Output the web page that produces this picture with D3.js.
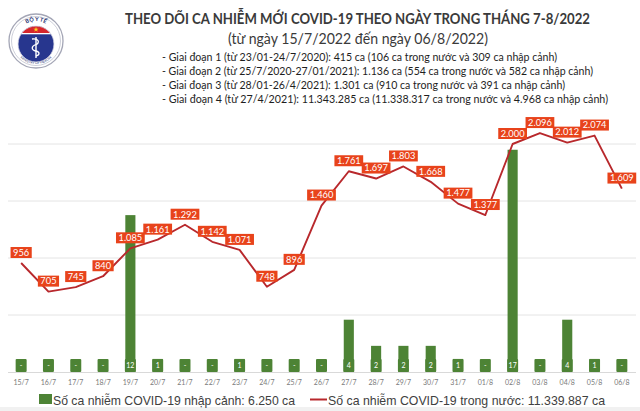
<!DOCTYPE html>
<html>
<head>
<meta charset="utf-8">
<script src="https://cdn.jsdelivr.net/npm/d3@7"></script>
<style>
  body { margin: 0; background: #fff; }
  svg { display: block; font-family: "Lato", "Liberation Sans", Arial, sans-serif; }
</style>
</head>
<body>
<div id="chart"></div>
<script>
// chart data
var dates = ["15/7", "16/7", "17/7", "18/7", "19/7", "20/7", "21/7", "22/7", "23/7", "24/7", "25/7", "26/7",
    "27/7", "28/7", "29/7", "30/7", "31/7", "01/8", "02/8", "03/8", "04/8", "05/8", "06/8"];
var domestic = [956, 705, 745, 840, 1085, 1161, 1292, 1142, 1071, 748, 896, 1460,
    1761, 1697, 1803, 1668, 1477, 1377, 2000, 2096, 2012, 2074, 1609];
var imported = [0, 0, 0, 0, 12, 1, 0, 0, 1, 0, 0, 0,
    4, 2, 2, 2, 1, 0, 17, 0, 4, 1, 0];
var gridTicks = [500, 1000, 1500, 2000];

var titleText = "THEO DÕI CA NHIỄM MỚI COVID-19 THEO NGÀY TRONG THÁNG 7-8/2022";
var subtitleText = "(từ ngày 15/7/2022 đến ngày 06/8/2022)";
var stageNotes = [
    "- Giai đoạn 1 (từ 23/01-24/7/2020): 415 ca (106 ca trong nước và 309 ca nhập cảnh)",
    "- Giai đoạn 2 (từ 25/7/2020-27/01/2021): 1.136 ca (554 ca trong nước và 582 ca nhập cảnh)",
    "- Giai đoạn 3 (từ 28/01-26/4/2021): 1.301 ca (910 ca trong nước và 391 ca nhập cảnh)",
    "- Giai đoạn 4 (từ 27/4/2021): 11.343.285 ca (11.338.317 ca trong nước và 4.968 ca nhập cảnh)"
];
var legendLabels = ["Số ca nhiễm COVID-19 nhập cảnh: 6.250 ca", "Số ca nhiễm COVID-19 trong nước: 11.339.887 ca"];

var width = 640, height = 411;
var baseline = 372, plotTop = 87;
var lineColor = "#b8282c", boxColor = "#e8431b", barColor = "#4d8335";

// vietnamese number format: 1.085
var vn = d3.formatLocale({ decimal: ",", thousands: ".", grouping: [3], currency: ["", ""] });
var fmt = vn.format(",d");

var svg = d3.select("#chart").append("svg")
    .attr("width", width).attr("height", height);

svg.append("rect").attr("width", width).attr("height", height).attr("fill", "#fff");
svg.append("rect").attr("y", 407).attr("width", width).attr("height", 4).attr("fill", "#f1f1f1");

// ---- logo (Bo Y Te)
var logo = svg.append("g").attr("transform", "translate(36,41)");
var defs = svg.append("defs");
defs.append("clipPath").attr("id", "innerClip")
    .append("circle").attr("cx", 36).attr("cy", 44).attr("r", 18);
defs.append("path").attr("id", "topArc").attr("d", "M-20,0 A20,20 0 0,1 20,0");
defs.append("path").attr("id", "botArc").attr("d", "M-23,0 A23,23 0 0,0 23,0");

logo.append("circle").attr("r", 27).attr("fill", "#fff")
    .attr("stroke", "#a4a6b6").attr("stroke-width", 1.3);
logo.append("circle").attr("r", 24.5).attr("fill", "none")
    .attr("stroke", "#b8bac8").attr("stroke-width", 0.7);
logo.append("text").attr("font-size", 5.5).attr("font-weight", "bold").attr("fill", "#23306f")
    .append("textPath").attr("href", "#topArc").attr("startOffset", "50%")
    .attr("text-anchor", "middle").text("BỘ Y TẾ");
logo.append("text").attr("font-size", 3.4).attr("fill", "#23306f")
    .append("textPath").attr("href", "#botArc").attr("startOffset", "50%")
    .attr("text-anchor", "middle").text("MINISTRY OF HEALTH");

var inner = svg.append("g").attr("clip-path", "url(#innerClip)");
inner.append("rect").attr("x", 16).attr("y", 24).attr("width", 40).attr("height", 40).attr("fill", "#27368e");
inner.append("rect").attr("x", 16).attr("y", 24).attr("width", 40).attr("height", 9).attr("fill", "#d6262c");
inner.append("rect").attr("x", 16).attr("y", 33).attr("width", 40).attr("height", 1.3).attr("fill", "#fff");
svg.append("circle").attr("cx", 36).attr("cy", 44).attr("r", 18)
    .attr("fill", "none").attr("stroke", "#dfe0ea").attr("stroke-width", 0.8);
svg.append("path").attr("d", d3.symbol(d3.symbolStar).size(9)())
    .attr("transform", "translate(36,29.5)").attr("fill", "#ffd21f");
svg.append("line").attr("x1", 36).attr("x2", 36).attr("y1", 37).attr("y2", 58)
    .attr("stroke", "#fff").attr("stroke-width", 1.4);
svg.append("path")
    .attr("d", "M32,39 C39,38 40,43 36,44.5 C31,46 31,50 36,51 C40,52 40,55 36,56")
    .attr("fill", "none").attr("stroke", "#fff").attr("stroke-width", 1.3);

// ---- titles
function fitText(sel, w) {
    sel.attr("textLength", w).attr("lengthAdjust", "spacingAndGlyphs");
}
svg.append("text").attr("x", 125).attr("y", 24)
    .attr("font-size", 14.5).attr("font-weight", "bold").attr("fill", "#3a3a3a")
    .text(titleText).call(fitText, 465);
svg.append("text").attr("x", 228).attr("y", 44)
    .attr("font-size", 14.5).attr("fill", "#3a3a3a")
    .text(subtitleText).call(fitText, 260);

var noteEnds = [557, 593, 565, 608];
svg.append("g").selectAll("text").data(stageNotes).enter().append("text")
    .attr("x", 162)
    .attr("y", (d, i) => 60.5 + i * 14.2)
    .attr("font-size", 11).attr("fill", "#1e1e1e")
    .text(d => d)
    .each(function (d, i) { d3.select(this).call(fitText, noteEnds[i] - 162); });

// ---- scales
var x = d3.scaleBand().domain(dates)
    .range([7.5, 635.5]).paddingInner(0.63).paddingOuter(0.315);
var yLine = d3.scaleLinear().domain([0, 2500]).range([baseline, plotTop]);
var yBar = d3.scaleLinear().domain([0, 21.8]).range([baseline, plotTop]);
var cx = d => x(d) + x.bandwidth() / 2;

// gridlines
svg.append("g").selectAll("line").data(gridTicks).enter().append("line")
    .attr("x1", 8).attr("x2", 636)
    .attr("y1", d => yLine(d)).attr("y2", d => yLine(d))
    .attr("stroke", "#e4e4e4").attr("stroke-width", 1);

// x axis
var xAxis = d3.axisBottom(x).tickSize(0).tickPadding(8);
var gx = svg.append("g").attr("transform", `translate(0,${baseline})`).call(xAxis);
gx.select(".domain").remove();
gx.selectAll("text").attr("font-size", 7).attr("fill", "#7a7a7a")
    .attr("font-family", "Lato, 'Liberation Sans', sans-serif");
svg.append("line").attr("x1", 8).attr("x2", 636)
    .attr("y1", baseline + 0.5).attr("y2", baseline + 0.5)
    .attr("stroke", "#d9d9d9");

// bars (imported cases)
svg.append("g").selectAll("rect").data(dates).enter().append("rect")
    .attr("x", d => x(d))
    .attr("width", x.bandwidth())
    .attr("y", (d, i) => yBar(imported[i]))
    .attr("height", (d, i) => baseline - yBar(imported[i]))
    .attr("fill", barColor);

// bar labels at base
var barLab = svg.append("g").selectAll("g").data(dates).enter().append("g")
    .attr("transform", d => `translate(${cx(d)},${baseline - 6.5})`);
barLab.append("rect")
    .attr("x", -5.5).attr("y", -6.5).attr("width", 11).attr("height", 13).attr("rx", 1)
    .attr("fill", barColor);
barLab.append("text")
    .attr("text-anchor", "middle").attr("dy", "0.35em")
    .attr("font-size", 7).attr("fill", "#fff")
    .text((d, i) => imported[i] === 0 ? "-" : imported[i]);

// line (domestic cases)
var line = d3.line()
    .x((d, i) => cx(dates[i]))
    .y(d => yLine(d));
svg.append("path").datum(domestic)
    .attr("d", line)
    .attr("fill", "none")
    .attr("stroke", lineColor)
    .attr("stroke-width", 1.9)
    .attr("stroke-linejoin", "round");

// line labels
var lineLab = svg.append("g").selectAll("g").data(domestic).enter().append("g")
    .attr("transform", (d, i) => `translate(${cx(dates[i])},${yLine(d) - 10.5})`);
lineLab.append("text")
    .attr("text-anchor", "middle").attr("dy", "0.36em")
    .attr("font-size", 9.3).attr("fill", "#fff")
    .text(d => fmt(d));
lineLab.each(function () {
    var g = d3.select(this);
    var w = g.select("text").node().getComputedTextLength() + 5;
    g.insert("rect", "text")
        .attr("x", -w / 2).attr("y", -5.5)
        .attr("width", w).attr("height", 11)
        .attr("fill", boxColor);
});

// legend
var leg = svg.append("g").attr("font-family", "'Liberation Sans', Arial, sans-serif");
leg.append("rect").attr("x", 39).attr("y", 394).attr("width", 13).attr("height", 10).attr("fill", barColor);
leg.append("text").attr("x", 53).attr("y", 404.5).attr("font-size", 13).attr("fill", "#404040")
    .text(legendLabels[0]).call(fitText, 242);
leg.append("line").attr("x1", 310).attr("x2", 327).attr("y1", 399.5).attr("y2", 399.5)
    .attr("stroke", lineColor).attr("stroke-width", 2);
leg.append("text").attr("x", 328).attr("y", 404.5).attr("font-size", 13).attr("fill", "#404040")
    .text(legendLabels[1]).call(fitText, 277);
</script>
</body>
</html>
